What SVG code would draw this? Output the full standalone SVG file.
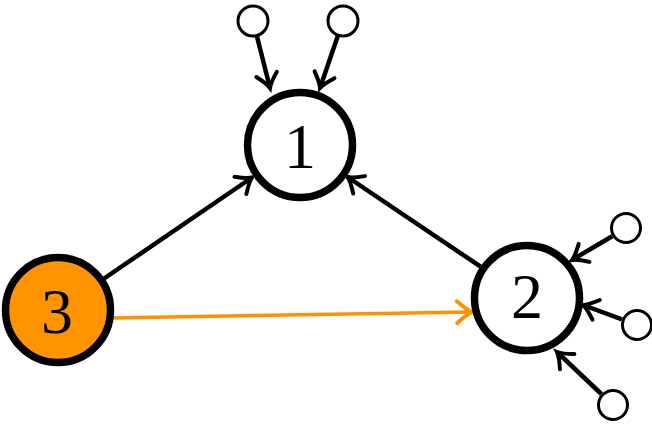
<svg xmlns="http://www.w3.org/2000/svg" width="652" height="425" viewBox="0 0 652 425">
  <defs>
    <marker id="tip" markerUnits="userSpaceOnUse" markerWidth="34" markerHeight="34" refX="0" refY="0" viewBox="-17 -17 34 34" orient="auto" overflow="visible">
      <path d="M-14,-10.5 Q-5,-2 0,0 Q-5,2 -14,10.5" fill="none" stroke="#000" stroke-width="4" stroke-linecap="round"/>
    </marker>
    <marker id="tipOrange" markerUnits="userSpaceOnUse" markerWidth="34" markerHeight="34" refX="0" refY="0" viewBox="-17 -17 34 34" orient="auto" overflow="visible">
      <path d="M-15,-11 Q-5,-2 0,0 Q-5,2 -15,11" fill="none" stroke="#FF9200" stroke-width="4" stroke-linecap="round"/>
    </marker>
  </defs>
  <style>
    .node { fill: #fff; stroke: #000; stroke-width: 7.5; }
    .hub { fill: #FF9400; }
    .leaf { fill: #fff; stroke: #000; stroke-width: 3; }
    .edge { stroke: #000; stroke-width: 4.5; fill: none; marker-end: url(#tip); }
    .edge-hi { stroke: #FF9200; stroke-width: 3.5; fill: none; marker-end: url(#tipOrange); }
    .label { font-family: "Liberation Serif", "DejaVu Serif", serif; font-size: 64px; text-anchor: middle; fill: #000; }
  </style>

  <g id="connectors">
    <line class="edge" x1="257" y1="36.5" x2="270" y2="88"/>
    <line class="edge" x1="337.8" y1="36.1" x2="320" y2="88"/>
    <line class="edge" x1="103.4" y1="279" x2="252" y2="177.5"/>
    <line class="edge" x1="480.6" y1="266.7" x2="347.5" y2="177"/>
    <line class="edge" x1="612.2" y1="236.2" x2="572" y2="260"/>
    <line class="edge" x1="622" y1="319.4" x2="583" y2="305"/>
    <line class="edge" x1="601.4" y1="394" x2="557" y2="352"/>
    <line class="edge-hi" x1="111" y1="318" x2="472" y2="312"/>
  </g>

  <g id="node-1">
    <circle class="node" cx="300" cy="145" r="52.5"/>
    <text class="label" x="300" y="168">1</text>
  </g>
  <g id="node-2">
    <circle class="node" cx="527" cy="298" r="52.5"/>
    <text class="label" x="527" y="318">2</text>
  </g>
  <g id="node-3">
    <circle class="node hub" cx="58" cy="310" r="52.5"/>
    <text class="label" x="57" y="333">3</text>
  </g>

  <g id="leaf-1a"><circle class="leaf" cx="253" cy="21" r="15"/></g>
  <g id="leaf-1b"><circle class="leaf" cx="343" cy="21" r="15"/></g>
  <g id="leaf-2a"><circle class="leaf" cx="626" cy="228" r="14.5"/></g>
  <g id="leaf-2b"><circle class="leaf" cx="637" cy="325" r="14.5"/></g>
  <g id="leaf-2c"><circle class="leaf" cx="613" cy="405" r="14.5"/></g>
</svg>
